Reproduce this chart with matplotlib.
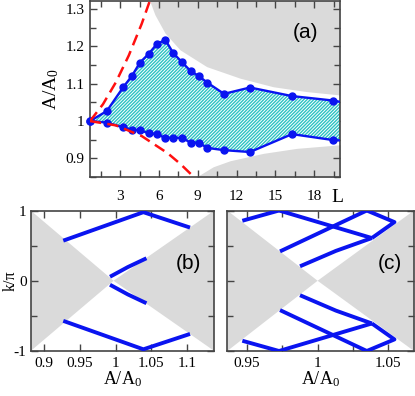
import matplotlib
matplotlib.use('Agg')
import matplotlib.pyplot as plt
from matplotlib.ticker import FixedLocator, MultipleLocator

plt.rcParams['font.family'] = ['Liberation Serif', 'DejaVu Serif']
plt.rcParams['mathtext.default'] = 'regular'
plt.rcParams['hatch.linewidth'] = 1.0

# ---------------- Panel (a) data ----------------
L_pts = [0.667, 1.97, 3.24, 3.91, 4.53, 5.2, 5.82, 6.49, 7.11, 7.78, 8.45, 9.07,
         9.74, 11.03, 13.04, 16.29, 19.48, 21.0]
A_upper = [1.0, 1.027, 1.091, 1.121, 1.157, 1.180, 1.206, 1.218, 1.182, 1.158,
           1.134, 1.121, 1.103, 1.073, 1.090, 1.067, 1.055, 1.045]
A_lower = [1.0, 0.996, 0.983, 0.977, 0.976, 0.967, 0.965, 0.955, 0.955, 0.955,
           0.942, 0.942, 0.928, 0.922, 0.917, 0.965, 0.949, 0.947]

red_up_L = [0.667, 1.667, 2.667, 3.667, 4.667, 5.667]
red_up_A = [1.0, 1.045, 1.104, 1.176, 1.261, 1.359]
red_lo_L = [0.667, 2.667, 4.667, 6.667, 7.667, 8.667, 9.167]
red_lo_A = [1.0, 0.9885, 0.9598, 0.914, 0.8847, 0.8511, 0.8327]

gray_up_L = [5.2, 5.31, 5.69, 6.47, 7.63, 9.69, 12.27, 14.84, 17.43, 20.0]
gray_up_A = [1.34, 1.320, 1.285, 1.236, 1.191, 1.146, 1.115, 1.092, 1.079, 1.070]
gray_lo_L = [8.7, 8.92, 10.2, 11.5, 14.07, 16.65, 19.75, 20.2]
gray_lo_A = [0.83, 0.8506, 0.8775, 0.8936, 0.9134, 0.9268, 0.9357, 0.937]

a_xticks = [3, 6, 9, 12, 15, 18]
a_yticks = [0.9, 1.0, 1.1, 1.2, 1.3]
a_yticklabels = ['0.9', '1', '1.1', '1.2', '1.3']

# ---------------- Panel (b) data ----------------
b_center = 0.997
b_outer_A = [0.9266, 1.0387, 1.104]
b_outer_k = [0.571, 0.976, 0.757]
b_inner_A = [0.992, 1.017, 1.043]
b_inner_k = [0.057, 0.195, 0.32]
b_xticks = [0.9, 0.95, 1.0, 1.05, 1.1]
b_xticklabels = ['0.9', '0.95', '1', '1.05', '1.1']

# ---------------- Panel (c) data ----------------
c_center = 1.0
c_segments_A = [[0.9469, 0.9728],
                [0.9728, 1.0383],
                [0.9735, 1.0347],
                [1.0347, 1.0542, 1.0383],
                [0.9876, 1.0129, 1.0383]]
c_segments_k = [[0.854, 1.0],
                [1.0, 0.608],
                [0.418, 1.0],
                [1.0, 0.835, 0.608],
                [0.206, 0.425, 0.608]]
c_xticks = [0.95, 1.0, 1.05]
c_xticklabels = ['0.95', '1', '1.05']

k_ticks = [-1, 0, 1]
k_ticklabels = ['-1', '0', '1']

BLUE = '#0a14f0'
GRAY = '#dadada'
SPINE = '#444444'
W, H = 415, 396

fig = plt.figure(figsize=(W / 100, H / 100), dpi=100)


def style(ax, fs=11):
    for s in ax.spines.values():
        s.set_color(SPINE)
        s.set_linewidth(1.2)
    ax.tick_params(which='both', direction='in', top=True, right=True,
                   color=SPINE, width=1.0, labelsize=fs, pad=4)
    ax.tick_params(which='major', length=5)
    ax.tick_params(which='minor', length=4)


# ---------- (a) ----------
axa = fig.add_axes([90 / W, 1 - 177 / H, 250 / W, 176 / H])
axa.set_xlim(0.667, 20.0)
axa.set_ylim(0.85, 1.322)
axa.fill_between(gray_up_L, gray_up_A, 1.5, color=GRAY, lw=0, zorder=1)
axa.fill_between(gray_lo_L, 0.7, gray_lo_A, color=GRAY, lw=0, zorder=1)
axa.fill_between(L_pts, A_lower, A_upper, facecolor='white', edgecolor='#2cc3c3',
                 hatch='//////////', lw=0, zorder=2)
axa.plot(L_pts, A_upper, color=BLUE, lw=1.7, zorder=3)
axa.plot(L_pts, A_lower, color=BLUE, lw=1.7, zorder=3)
vis = [i for i, l in enumerate(L_pts) if l <= 20]
axa.plot([L_pts[i] for i in vis], [A_upper[i] for i in vis], 'o', color=BLUE,
         ms=5, clip_on=False, zorder=4)
axa.plot([L_pts[i] for i in vis], [A_lower[i] for i in vis], 'o', color=BLUE,
         ms=5, clip_on=False, zorder=4)
axa.plot(red_up_L, red_up_A, color='#ff1010', lw=1.8, ls=(0, (4.5, 2.5)), zorder=5)
axa.plot(red_lo_L, red_lo_A, color='#ff1010', lw=1.8, ls=(0, (4.5, 2.5)), zorder=5)
style(axa)
axa.xaxis.set_major_locator(FixedLocator(a_xticks))
axa.xaxis.set_minor_locator(FixedLocator([1.5, 4.5, 7.5, 10.5, 13.5, 16.5, 19.5]))
axa.set_yticks(a_yticks)
axa.set_yticklabels(a_yticklabels)
axa.yaxis.set_minor_locator(MultipleLocator(0.05))
axa.tick_params(axis='x', pad=9)
axa.set_ylabel('A/A$_0$', fontsize=14, labelpad=3)
axa.text(0.99, -0.115, 'L', transform=axa.transAxes, fontsize=14,
         ha='center', va='center')
axa.text(0.86, 0.82, '(a)', transform=axa.transAxes, fontsize=15,
         family='Liberation Sans', ha='center', va='center')

# ---------- (b) ----------
axb = fig.add_axes([30.7 / W, 1 - 351 / H, 183.6 / W, 140.5 / H])
x0, x1 = 0.881, 1.138
axb.set_xlim(x0, x1)
axb.set_ylim(-1, 1)
axb.fill([x0, x0, b_center], [1, -1, 0], color=GRAY, lw=0, zorder=1)
axb.fill([x1, x1, b_center], [1, -1, 0], color=GRAY, lw=0, zorder=1)
for A, k in [(b_outer_A, b_outer_k), (b_inner_A, b_inner_k)]:
    axb.plot(A, k, color=BLUE, lw=2.8, solid_capstyle='butt', zorder=3)
    axb.plot(A, [-v for v in k], color=BLUE, lw=2.8, solid_capstyle='butt', zorder=3)
style(axb)
axb.tick_params(axis='y', pad=3)
axb.set_xticks(b_xticks)
axb.set_xticklabels(b_xticklabels)
axb.set_yticks(k_ticks)
axb.set_yticklabels(k_ticklabels)
axb.yaxis.set_minor_locator(FixedLocator([-0.5, 0.5]))
axb.set_xlabel('A/A$_0$', fontsize=13, labelpad=0)
axb.set_ylabel('k/π', fontsize=11.5)
axb.yaxis.set_label_coords(-0.0665, 0.5)
axb.text(0.86, 0.62, '(b)', transform=axb.transAxes, fontsize=15,
         family='Liberation Sans', ha='center', va='center')

# ---------- (c) ----------
axc = fig.add_axes([227.3 / W, 1 - 351 / H, 186.7 / W, 140.5 / H])
x0, x1 = 0.9363, 1.068
axc.set_xlim(x0, x1)
axc.set_ylim(-1, 1)
axc.fill([x0, x0, c_center], [1, -1, 0], color=GRAY, lw=0, zorder=1)
axc.fill([x1, x1, c_center], [1, -1, 0], color=GRAY, lw=0, zorder=1)
for A, k in zip(c_segments_A, c_segments_k):
    axc.plot(A, k, color=BLUE, lw=2.8, solid_capstyle='butt', zorder=3)
    axc.plot(A, [-v for v in k], color=BLUE, lw=2.8, solid_capstyle='butt', zorder=3)
style(axc)
axc.set_xticks(c_xticks)
axc.set_xticklabels(c_xticklabels)
axc.xaxis.set_minor_locator(FixedLocator([0.975, 1.025]))
axc.set_yticks(k_ticks)
axc.set_yticklabels([])
axc.yaxis.set_minor_locator(FixedLocator([-0.5, 0.5]))
axc.set_xlabel('A/A$_0$', fontsize=13, labelpad=0)
axc.text(0.87, 0.62, '(c)', transform=axc.transAxes, fontsize=15,
         family='Liberation Sans', ha='center', va='center')

fig.savefig('out.png', dpi=100)
